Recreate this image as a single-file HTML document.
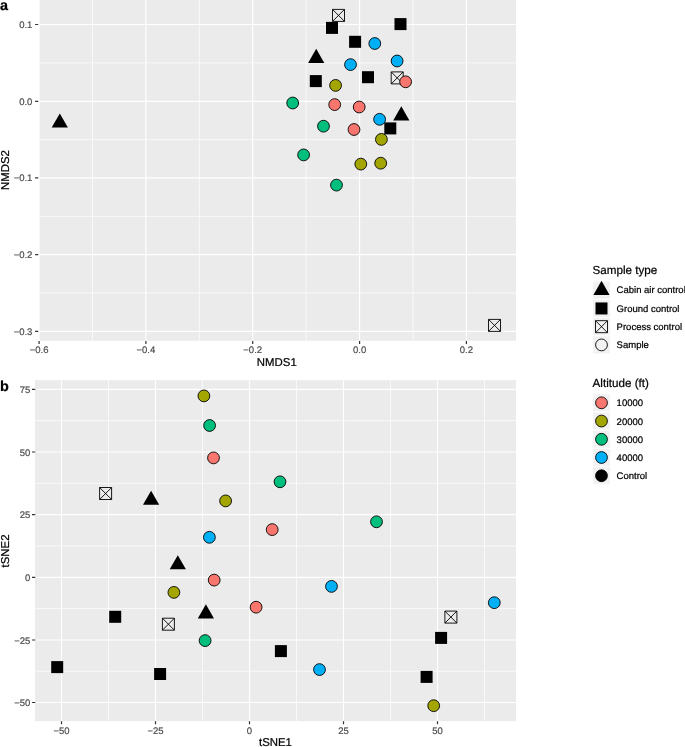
<!DOCTYPE html>
<html lang="en"><head><meta charset="utf-8"><title>Figure</title>
<style>html,body{margin:0;padding:0;background:#fff}svg{display:block}text{stroke:#000;stroke-width:.22px}.tk text{stroke:#4D4D4D;stroke-width:.2px}</style></head>
<body>
<svg width="685" height="747" viewBox="0 0 685 747" font-family="'Liberation Sans', Arial, Helvetica, sans-serif" text-rendering="geometricPrecision">
<rect width="685" height="747" fill="#fff"/>
<rect x="39.4" y="0" width="476.6" height="340.7" fill="#EBEBEB"/>
<clipPath id="ca"><rect x="39.4" y="0" width="476.6" height="340.7"/></clipPath>
<g clip-path="url(#ca)" stroke="#fff" fill="none">
<path d="M92.5 0V340.7M199.3 0V340.7M306.1 0V340.7M413 0V340.7M39.4 62.9H516M39.4 139.6H516M39.4 216.3H516M39.4 293H516" stroke-width="0.7"/>
<path d="M39.1 0V340.7M145.9 0V340.7M252.7 0V340.7M359.6 0V340.7M466.4 0V340.7M39.4 24.5H516M39.4 101.4H516M39.4 177.9H516M39.4 254.6H516M39.4 331.4H516" stroke-width="1.15"/>
</g>
<path d="M39.1 340.9v3M145.9 340.9v3M252.7 340.9v3M359.6 340.9v3M466.4 340.9v3M38.2 24.5h-3.1M38.2 101.4h-3.1M38.2 177.9h-3.1M38.2 254.6h-3.1M38.2 331.4h-3.1" stroke="#333" stroke-width="1.2" fill="none"/>
<g class="tk" font-size="9.5" fill="#4D4D4D">
<text x="32.4" y="28" text-anchor="end">0.1</text>
<text x="32.4" y="104.9" text-anchor="end">0.0</text>
<text x="32.4" y="181.4" text-anchor="end">−0.1</text>
<text x="32.4" y="258.1" text-anchor="end">−0.2</text>
<text x="32.4" y="334.9" text-anchor="end">−0.3</text>
<text x="39.1" y="353" text-anchor="middle">−0.6</text>
<text x="145.9" y="353" text-anchor="middle">−0.4</text>
<text x="252.7" y="353" text-anchor="middle">−0.2</text>
<text x="359.6" y="353" text-anchor="middle">0.0</text>
<text x="466.4" y="353" text-anchor="middle">0.2</text>
</g>
<text x="276.8" y="366.2" font-size="11.4" text-anchor="middle">NMDS1</text>
<text transform="translate(8.9 170.1) rotate(-90)" font-size="11.4" text-anchor="middle">NMDS2</text>
<text x="0" y="10.2" font-size="14.4" font-weight="bold">a</text>
<rect x="326" y="21.9" width="12" height="12" fill="#000"/>
<path d="M332.5 9.4h12v12h-12zM332.5 9.4l12 12M332.5 21.4l12 -12" fill="none" stroke="#000" stroke-width="0.9" stroke-linejoin="miter"/>
<rect x="394.5" y="18.1" width="12" height="12" fill="#000"/>
<rect x="349.1" y="35.8" width="12" height="12" fill="#000"/>
<circle cx="374.8" cy="43.5" r="5.9" fill="#00B0F6" stroke="#000" stroke-width="0.9"/>
<path d="M316.2 48.85L324.3 62.88L308.1 62.88z" fill="#000"/>
<circle cx="350.5" cy="64.6" r="5.9" fill="#00B0F6" stroke="#000" stroke-width="0.9"/>
<circle cx="397.1" cy="61" r="5.9" fill="#00B0F6" stroke="#000" stroke-width="0.9"/>
<rect x="362" y="71.2" width="12" height="12" fill="#000"/>
<path d="M391.2 71.9h12v12h-12zM391.2 71.9l12 12M391.2 83.9l12 -12" fill="none" stroke="#000" stroke-width="0.9" stroke-linejoin="miter"/>
<circle cx="405.6" cy="81.8" r="5.9" fill="#F8766D" stroke="#000" stroke-width="0.9"/>
<rect x="309.8" y="75.1" width="12" height="12" fill="#000"/>
<circle cx="335.6" cy="85.4" r="5.9" fill="#A3A500" stroke="#000" stroke-width="0.9"/>
<circle cx="292.7" cy="103" r="5.9" fill="#00BF7D" stroke="#000" stroke-width="0.9"/>
<circle cx="334.7" cy="104.6" r="5.9" fill="#F8766D" stroke="#000" stroke-width="0.9"/>
<circle cx="359.2" cy="107" r="5.9" fill="#F8766D" stroke="#000" stroke-width="0.9"/>
<path d="M401.3 106.35L409.4 120.38L393.2 120.38z" fill="#000"/>
<rect x="384.3" y="122.4" width="12" height="12" fill="#000"/>
<circle cx="379.6" cy="119.3" r="5.9" fill="#00B0F6" stroke="#000" stroke-width="0.9"/>
<circle cx="323.5" cy="126.2" r="5.9" fill="#00BF7D" stroke="#000" stroke-width="0.9"/>
<circle cx="354" cy="129.5" r="5.9" fill="#F8766D" stroke="#000" stroke-width="0.9"/>
<circle cx="381.4" cy="139.4" r="5.9" fill="#A3A500" stroke="#000" stroke-width="0.9"/>
<circle cx="303.6" cy="154.9" r="5.9" fill="#00BF7D" stroke="#000" stroke-width="0.9"/>
<circle cx="360.8" cy="164.1" r="5.9" fill="#A3A500" stroke="#000" stroke-width="0.9"/>
<circle cx="380.7" cy="163.2" r="5.9" fill="#A3A500" stroke="#000" stroke-width="0.9"/>
<circle cx="336.5" cy="185.1" r="5.9" fill="#00BF7D" stroke="#000" stroke-width="0.9"/>
<path d="M59.8 113.55L67.9 127.58L51.7 127.58z" fill="#000"/>
<path d="M488.5 319.4h12v12h-12zM488.5 319.4l12 12M488.5 331.4l12 -12" fill="none" stroke="#000" stroke-width="0.9" stroke-linejoin="miter"/>
<rect x="35" y="380.2" width="481" height="341" fill="#EBEBEB"/>
<clipPath id="cb"><rect x="35" y="380.2" width="481" height="341"/></clipPath>
<g clip-path="url(#cb)" stroke="#fff" fill="none">
<path d="M108.5 380.2V721.2M202.5 380.2V721.2M296.5 380.2V721.2M390.5 380.2V721.2M484.5 380.2V721.2M35 420.6H516M35 483.3H516M35 546H516M35 608.6H516M35 671.2H516" stroke-width="0.7"/>
<path d="M61.5 380.2V721.2M155.5 380.2V721.2M249.5 380.2V721.2M343.5 380.2V721.2M437.5 380.2V721.2M35 389.3H516M35 452H516M35 514.6H516M35 577.3H516M35 640H516M35 702.5H516" stroke-width="1.15"/>
</g>
<path d="M61.5 721.3v3M155.5 721.3v3M249.5 721.3v3M343.5 721.3v3M437.5 721.3v3M35.3 389.3h-3.3M35.3 452h-3.3M35.3 514.6h-3.3M35.3 577.3h-3.3M35.3 640h-3.3M35.3 702.5h-3.3" stroke="#333" stroke-width="1.2" fill="none"/>
<g class="tk" font-size="9.5" fill="#4D4D4D">
<text x="30.3" y="392.8" text-anchor="end">75</text>
<text x="30.3" y="455.5" text-anchor="end">50</text>
<text x="30.3" y="518.1" text-anchor="end">25</text>
<text x="30.3" y="580.8" text-anchor="end">0</text>
<text x="30.3" y="643.5" text-anchor="end">−25</text>
<text x="30.3" y="706" text-anchor="end">−50</text>
<text x="61.5" y="733.7" text-anchor="middle">−50</text>
<text x="155.5" y="733.7" text-anchor="middle">−25</text>
<text x="249.5" y="733.7" text-anchor="middle">0</text>
<text x="343.5" y="733.7" text-anchor="middle">25</text>
<text x="437.5" y="733.7" text-anchor="middle">50</text>
</g>
<text x="275.5" y="746.4" font-size="11.4" text-anchor="middle">tSNE1</text>
<text transform="translate(9 551) rotate(-90)" font-size="11.4" text-anchor="middle">tSNE2</text>
<text x="-0.1" y="390.5" font-size="14.4" font-weight="bold">b</text>
<circle cx="203.9" cy="395.9" r="5.9" fill="#A3A500" stroke="#000" stroke-width="0.9"/>
<circle cx="209.6" cy="425.5" r="5.9" fill="#00BF7D" stroke="#000" stroke-width="0.9"/>
<circle cx="213.5" cy="457.9" r="5.9" fill="#F8766D" stroke="#000" stroke-width="0.9"/>
<circle cx="280" cy="481.8" r="5.9" fill="#00BF7D" stroke="#000" stroke-width="0.9"/>
<circle cx="225.6" cy="500.9" r="5.9" fill="#A3A500" stroke="#000" stroke-width="0.9"/>
<circle cx="272.2" cy="529.6" r="5.9" fill="#F8766D" stroke="#000" stroke-width="0.9"/>
<circle cx="209.4" cy="537.3" r="5.9" fill="#00B0F6" stroke="#000" stroke-width="0.9"/>
<path d="M99.6 487.5h12v12h-12zM99.6 487.5l12 12M99.6 499.5l12 -12" fill="none" stroke="#000" stroke-width="0.9" stroke-linejoin="miter"/>
<path d="M151.1 490.75L159.2 504.78L143 504.78z" fill="#000"/>
<circle cx="376.5" cy="521.8" r="5.9" fill="#00BF7D" stroke="#000" stroke-width="0.9"/>
<path d="M177.8 555.25L185.9 569.28L169.7 569.28z" fill="#000"/>
<circle cx="214.2" cy="580.1" r="5.9" fill="#F8766D" stroke="#000" stroke-width="0.9"/>
<circle cx="173.9" cy="592.4" r="5.9" fill="#A3A500" stroke="#000" stroke-width="0.9"/>
<path d="M205.9 604.35L214 618.38L197.8 618.38z" fill="#000"/>
<circle cx="256.1" cy="607.2" r="5.9" fill="#F8766D" stroke="#000" stroke-width="0.9"/>
<path d="M162.4 618.2h12v12h-12zM162.4 618.2l12 12M162.4 630.2l12 -12" fill="none" stroke="#000" stroke-width="0.9" stroke-linejoin="miter"/>
<circle cx="205.1" cy="640.6" r="5.9" fill="#00BF7D" stroke="#000" stroke-width="0.9"/>
<rect x="274.9" y="645.1" width="12" height="12" fill="#000"/>
<rect x="109.2" y="610.8" width="12" height="12" fill="#000"/>
<rect x="51.2" y="661.1" width="12" height="12" fill="#000"/>
<rect x="154.1" y="668" width="12" height="12" fill="#000"/>
<circle cx="331.5" cy="586.4" r="5.9" fill="#00B0F6" stroke="#000" stroke-width="0.9"/>
<circle cx="319.5" cy="669.6" r="5.9" fill="#00B0F6" stroke="#000" stroke-width="0.9"/>
<circle cx="494.3" cy="602.7" r="5.9" fill="#00B0F6" stroke="#000" stroke-width="0.9"/>
<path d="M444.9 611.1h12v12h-12zM444.9 611.1l12 12M444.9 623.1l12 -12" fill="none" stroke="#000" stroke-width="0.9" stroke-linejoin="miter"/>
<rect x="435.1" y="631.9" width="12" height="12" fill="#000"/>
<rect x="420.6" y="670.9" width="12" height="12" fill="#000"/>
<circle cx="433.7" cy="705.7" r="5.9" fill="#A3A500" stroke="#000" stroke-width="0.9"/>
<text x="592.6" y="273.8" font-size="11.65">Sample type</text>
<rect x="592.6" y="281.1" width="17.8" height="18.23" fill="#F2F2F2" stroke="#fff" stroke-width="1"/>
<rect x="592.6" y="299.33" width="17.8" height="18.23" fill="#F2F2F2" stroke="#fff" stroke-width="1"/>
<rect x="592.6" y="317.56" width="17.8" height="18.23" fill="#F2F2F2" stroke="#fff" stroke-width="1"/>
<rect x="592.6" y="335.79" width="17.8" height="18.23" fill="#F2F2F2" stroke="#fff" stroke-width="1"/>
<path d="M601.5 280.86L609.6 294.89L593.4 294.89z" fill="#000"/>
<rect x="595.5" y="302.45" width="12" height="12" fill="#000"/>
<path d="M595.5 320.68h12v12h-12zM595.5 320.68l12 12M595.5 332.68l12 -12" fill="none" stroke="#000" stroke-width="0.9" stroke-linejoin="miter"/>
<circle cx="601.5" cy="344.91" r="5.9" fill="none" stroke="#000" stroke-width="0.9"/>
<g font-size="9.5">
<text x="616.6" y="293.37">Cabin air control</text>
<text x="616.6" y="311.6">Ground control</text>
<text x="616.6" y="329.82">Process control</text>
<text x="616.6" y="348.06">Sample</text>
</g>
<text x="592.6" y="386.7" font-size="11.65">Altitude (ft)</text>
<rect x="592.6" y="393.7" width="17.8" height="18.23" fill="#F2F2F2" stroke="#fff" stroke-width="1"/>
<rect x="592.6" y="411.93" width="17.8" height="18.23" fill="#F2F2F2" stroke="#fff" stroke-width="1"/>
<rect x="592.6" y="430.16" width="17.8" height="18.23" fill="#F2F2F2" stroke="#fff" stroke-width="1"/>
<rect x="592.6" y="448.39" width="17.8" height="18.23" fill="#F2F2F2" stroke="#fff" stroke-width="1"/>
<rect x="592.6" y="466.62" width="17.8" height="18.23" fill="#F2F2F2" stroke="#fff" stroke-width="1"/>
<circle cx="601.5" cy="402.81" r="5.9" fill="#F8766D" stroke="#000" stroke-width="0.9"/>
<circle cx="601.5" cy="421.04" r="5.9" fill="#A3A500" stroke="#000" stroke-width="0.9"/>
<circle cx="601.5" cy="439.27" r="5.9" fill="#00BF7D" stroke="#000" stroke-width="0.9"/>
<circle cx="601.5" cy="457.5" r="5.9" fill="#00B0F6" stroke="#000" stroke-width="0.9"/>
<circle cx="601.5" cy="475.74" r="5.9" fill="#000" stroke="#000" stroke-width="0.9"/>
<g font-size="9.5">
<text x="616.6" y="406.42">10000</text>
<text x="616.6" y="424.64">20000</text>
<text x="616.6" y="442.88">30000</text>
<text x="616.6" y="461.11">40000</text>
<text x="616.6" y="479.34">Control</text>
</g>
</svg>
</body></html>
